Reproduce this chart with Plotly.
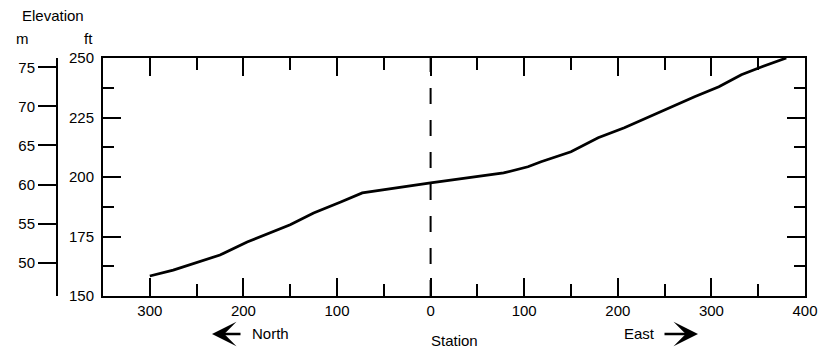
import plotly.graph_objects as go

# Ground profile along the survey line (station in ft; North negative, East positive)
station = [-300, -275, -225, -196, -150, -125, -96, -73, 0, 78, 104, 118,
           150, 179, 207, 250, 282, 308, 332, 354, 380]
elev_ft = [158.4, 160.9, 167.2, 172.7, 179.9, 184.9, 189.5, 193.3, 197.5,
           201.7, 204.3, 206.4, 210.6, 216.5, 220.7, 228.3, 233.7, 237.9,
           243.0, 246.3, 250.0]

FT_TO_M = 0.3048
ft_range = [150, 250]
ft_ticks = [150, 175, 200, 225, 250]
m_ticks = [50, 55, 60, 65, 70, 75]
station_range = [-350, 400]
station_ticks = [-300, -200, -100, 0, 100, 200, 300, 400]
station_labels = [str(abs(v)) for v in station_ticks]
origin_station = 0

FONT = "Liberation Sans, Arial, sans-serif"
INK = "#000000"

fig = go.Figure()

fig.add_trace(go.Scatter(
    x=station, y=elev_ft, mode="lines",
    line=dict(color=INK, width=2.8),
    hoverinfo="skip", showlegend=False,
))

# Same profile in metres on the secondary scale (invisible, keeps the axis live)
fig.add_trace(go.Scatter(
    x=station, y=[v * FT_TO_M for v in elev_ft], mode="lines",
    line=dict(color="rgba(0,0,0,0)", width=0),
    yaxis="y2", hoverinfo="skip", showlegend=False,
))

# Vertical dashed reference at station 0
fig.add_shape(type="line", xref="x", yref="y",
              x0=origin_station, x1=origin_station, y0=ft_range[0], y1=ft_range[1],
              line=dict(color=INK, width=2, dash="16px,16px"))

L, R, T, B = 57, 27, 58, 54
W, H = 832, 350
plot_w = W - L - R
x0_dom = (103 - L) / plot_w

fig.update_layout(
    width=W, height=H,
    margin=dict(l=L, r=R, t=T, b=B),
    paper_bgcolor="white", plot_bgcolor="white",
    font=dict(family=FONT, size=15, color=INK),
    xaxis=dict(
        domain=[x0_dom, 1],
        range=station_range,
        tickvals=station_ticks, ticktext=station_labels,
        ticks="inside", ticklen=18, tickwidth=2, tickcolor=INK,
        minor=dict(dtick=50, ticks="inside", ticklen=12, tickwidth=2, tickcolor=INK),
        showline=True, linewidth=2, linecolor=INK, mirror="ticks",
        showgrid=False, zeroline=False,
        tickfont=dict(size=15, color=INK),
    ),
    yaxis=dict(
        range=ft_range,
        tickvals=ft_ticks,
        ticks="inside", ticklen=18, tickwidth=2, tickcolor=INK,
        minor=dict(dtick=12.5, ticks="inside", ticklen=11, tickwidth=2, tickcolor=INK),
        showline=True, linewidth=2, linecolor=INK, mirror="ticks",
        showgrid=False, zeroline=False,
        tickfont=dict(size=15, color=INK),
        ticklabelstandoff=4,
    ),
    yaxis2=dict(
        overlaying="y", anchor="free", position=0, side="left",
        range=[ft_range[0] * FT_TO_M, ft_range[1] * FT_TO_M],
        tickvals=m_ticks,
        ticks="outside", ticklen=18, tickwidth=2, tickcolor=INK,
        showline=True, linewidth=2, linecolor=INK,
        showgrid=False, zeroline=False,
        tickfont=dict(size=15, color=INK),
    ),
)

def px_x(px):
    return (px - L) / plot_w

def px_y(py):
    return (H - B - py) / (H - T - B)

# Axis captions
for text, cx, cy in [("Elevation", 53, 16), ("m", 22, 38), ("ft", 88, 38)]:
    fig.add_annotation(text=text, x=px_x(cx), y=px_y(cy), xref="paper", yref="paper",
                       showarrow=False, xanchor="center", yanchor="middle",
                       font=dict(size=15, color=INK))

fig.add_annotation(text="Station", x=px_x(454), y=px_y(340), xref="paper", yref="paper",
                   showarrow=False, xanchor="center", yanchor="middle",
                   font=dict(size=15, color=INK))
fig.add_annotation(text="North", x=px_x(270), y=px_y(333), xref="paper", yref="paper",
                   showarrow=False, xanchor="center", yanchor="middle",
                   font=dict(size=15, color=INK))
fig.add_annotation(text="East", x=px_x(639), y=px_y(333), xref="paper", yref="paper",
                   showarrow=False, xanchor="center", yanchor="middle",
                   font=dict(size=15, color=INK))

# Direction arrows (tail offset given in pixels from the head)
for head, tail in [(212, 242), (698, 663)]:
    fig.add_annotation(text="", x=px_x(head), y=px_y(334), xref="paper", yref="paper",
                       ax=tail - head, ay=0, axref="pixel", ayref="pixel",
                       showarrow=True, arrowhead=3, arrowsize=1.7, arrowwidth=2.4,
                       arrowcolor=INK)

fig.write_html("out.html")
